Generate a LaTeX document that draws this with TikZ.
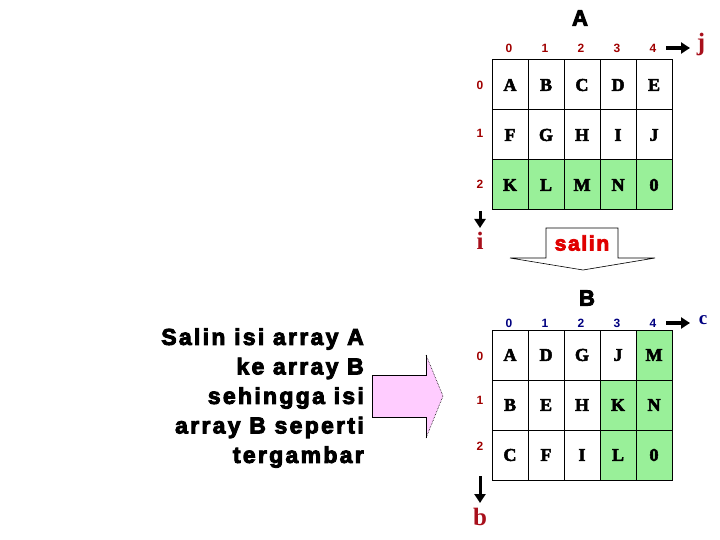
\documentclass[tikz,border=0pt]{standalone}
\usepackage{fontspec}
\setmainfont{Liberation Serif}
\newfontfamily\sansf{Liberation Sans}
\newfontfamily\heavy[FakeBold=4,LetterSpace=8]{Liberation Sans Bold}
\newfontfamily\heavyT[FakeBold=4,LetterSpace=10]{Liberation Sans Bold}
\newfontfamily\heavyB[FakeBold=3]{Liberation Serif Bold}
\usetikzlibrary{arrows.meta}
\definecolor{idxred}{HTML}{A00000}
\definecolor{lblred}{HTML}{A8101C}
\definecolor{navy}{HTML}{000080}
\definecolor{grn}{HTML}{99F099}
\definecolor{pinkf}{HTML}{FFCCFF}
\definecolor{salred}{HTML}{E00000}
\tikzset{
  cell/.style={draw, line width=1pt, minimum width=36pt, minimum height=50pt, inner sep=0pt,
    font=\heavyB\fontsize{18}{18}\selectfont},
  idx/.style={inner sep=1pt, font=\sansf\fontsize{12}{12}\selectfont\bfseries},
  ttl/.style={inner sep=1pt, font=\heavy\fontsize{22}{22}\selectfont},
  axis/.style={inner sep=1pt, font=\fontsize{25}{25}\selectfont\bfseries},
  arr/.style={line width=3.5pt, -{Triangle[length=9pt,width=11pt]}},
  varr/.style={line width=3pt, -{Triangle[length=9pt,width=11pt]}}
}
\begin{document}
\begin{tikzpicture}[x=1pt,y=-1pt]
\useasboundingbox (0,0) rectangle (720,540);
% ---------- Array A ----------
\node[ttl] (titleA) at (580,18) {A};
\foreach \r/\row in {0/{A,B,C,D,E},1/{F,G,H,I,J},2/{K,L,M,N,0}} {
  \foreach \ch [count=\c from 0] in \row {
    \ifnum\r=2 \def\fc{grn}\else\def\fc{white}\fi
    \node[cell, fill=\fc] (a\r\c) at ({510+36*\c},{85+50*\r}) {\ch};
  }
}
\foreach \c in {0,...,4} {
  \node[idx, text=idxred] (ac\c) at ({509+36*\c},48) {\c};
}
\node[idx, text=idxred] (ar0) at (480,85) {0};
\node[idx, text=idxred] (ar1) at (480,133) {1};
\node[idx, text=idxred] (ar2) at (480,184) {2};
\node[axis, text=lblred] (jA) at (701,44) {j};
\coordinate (jS) at (666,48);
\coordinate (jE) at (690,48);
\draw[arr] (jS) -- (jE);
\node[axis, text=lblred] (iA) at (480,241) {i};
\coordinate (iS) at (480,211);
\coordinate (iE) at (480,228);
\draw[varr] (iS) -- (iE);
% ---------- salin arrow ----------
\draw[fill=white, line width=0.6pt] (546,228) -- (618,228) -- (618,258) -- (655,258)
  -- (583,270) -- (510,258) -- (546,258) -- cycle;
\node[inner sep=0pt, text=salred, font=\heavy\fontsize{21}{21}\selectfont] (salin) at (582,243) {salin};
% ---------- Array B ----------
\node[ttl] (titleB) at (587,298) {B};
\foreach \r/\row in {0/{A,D,G,J,M},1/{B,E,H,K,N},2/{C,F,I,L,0}} {
  \foreach \ch [count=\c from 0] in \row {
    \pgfmathtruncatemacro\g{((\r>0 && \c>2) || (\c==4)) ? 1 : 0}
    \ifnum\g=1 \def\fc{grn}\else\def\fc{white}\fi
    \node[cell, fill=\fc] (b\r\c) at ({510+36*\c},{355+50*\r}) {\ch};
  }
}
\foreach \c in {0,...,4} {
  \node[idx, text=navy] (bc\c) at ({509+36*\c},323) {\c};
}
\node[idx, text=idxred] (br0) at (480,356) {0};
\node[idx, text=idxred] (br1) at (480,400) {1};
\node[idx, text=idxred] (br2) at (480,446) {2};
\node[inner sep=1pt, text=navy, font=\fontsize{19}{19}\selectfont\bfseries] (cB) at (703,320) {c};
\coordinate (cS) at (666,323);
\coordinate (cE) at (690,323);
\draw[arr] (cS) -- (cE);
\node[axis, text=lblred] (bB) at (480,517) {b};
\coordinate (bS) at (480,476);
\coordinate (bE) at (480,503);
\draw[varr] (bS) -- (bE);
% ---------- pink arrow ----------
\fill[pinkf] (372,375) -- (426,375) -- (426,355) -- (443,396) -- (426,438) -- (426,417) -- (372,417) -- cycle;
\draw[line width=1pt] (426,355) -- (426,375) -- (372,375) -- (372,417) -- (426,417) -- (426,438);
\draw[line width=0.6pt, densely dotted] (426,355) -- (443,396) -- (426,438);
% ---------- text ----------
\node[anchor=east, align=right, inner sep=0pt, font=\heavyT\fontsize{23}{29.5}\selectfont] (txt) at (364,398)
  {Salin isi array A\\ke array B\\sehingga isi\\array B seperti\\tergambar};
\end{tikzpicture}
\end{document}
